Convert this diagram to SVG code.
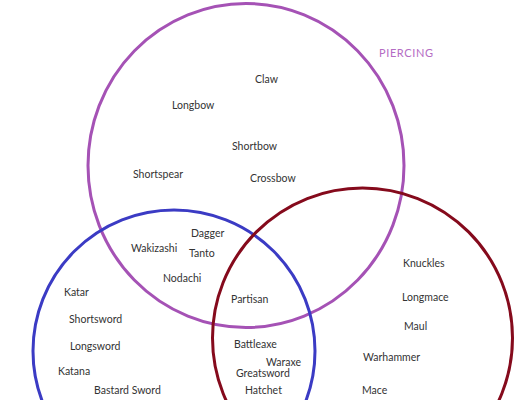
<svg xmlns="http://www.w3.org/2000/svg" width="522" height="400" viewBox="0 0 522 400">
<style>
.c{fill:none;stroke-width:3}
.t{font-family:Lato,"Open Sans","DejaVu Sans",sans-serif;font-size:10.5px;fill:#333}
.lab{font-family:Lato,"Open Sans","DejaVu Sans",sans-serif;font-size:11px;fill:#b46cc4;letter-spacing:0.6px}
</style>
<rect width="522" height="400" fill="#fff"/>
<g id="circles">
<ellipse id="piercing" class="c" cx="246" cy="165.5" rx="158" ry="162" stroke="#a552b5"/>
<circle id="slashing" class="c" cx="174" cy="351" r="141" stroke="#3b3bc4"/>
<circle id="bludgeoning" class="c" cx="362.5" cy="338" r="150" stroke="#850a1c"/>
</g>
<text class="lab" x="379" y="57">PIERCING</text>
<g id="labels">
<text class="t" x="255" y="82.5">Claw</text>
<text class="t" x="172" y="108.5">Longbow</text>
<text class="t" x="232" y="149.5">Shortbow</text>
<text class="t" x="133" y="177.5">Shortspear</text>
<text class="t" x="250" y="181.5">Crossbow</text>
<text class="t" x="191" y="236.5">Dagger</text>
<text class="t" x="131" y="251.5">Wakizashi</text>
<text class="t" x="189" y="256.5">Tanto</text>
<text class="t" x="163" y="281.5">Nodachi</text>
<text class="t" x="64" y="295.5">Katar</text>
<text class="t" x="231" y="302.5">Partisan</text>
<text class="t" x="403" y="266.5">Knuckles</text>
<text class="t" x="402" y="300.5">Longmace</text>
<text class="t" x="404" y="329.5">Maul</text>
<text class="t" x="69" y="322.5">Shortsword</text>
<text class="t" x="70" y="349.5">Longsword</text>
<text class="t" x="234" y="347.5">Battleaxe</text>
<text class="t" x="363" y="360.5">Warhammer</text>
<text class="t" x="266" y="365.5">Waraxe</text>
<text class="t" x="236" y="377">Greatsword</text>
<text class="t" x="58" y="374.5">Katana</text>
<text class="t" x="94" y="393.5">Bastard Sword</text>
<text class="t" x="245" y="393.5">Hatchet</text>
<text class="t" x="362" y="393.5">Mace</text>
</g>
</svg>
